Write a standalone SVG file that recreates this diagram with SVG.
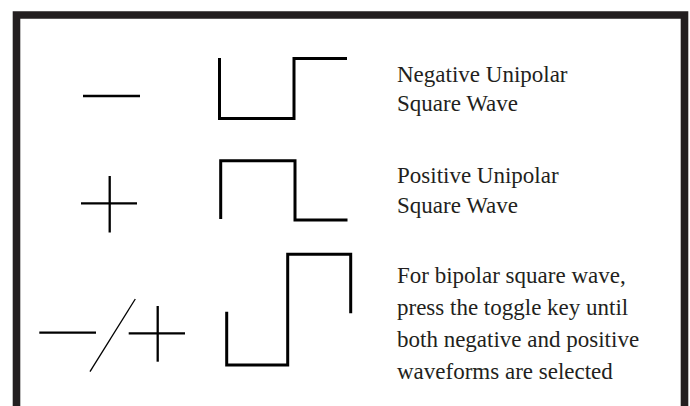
<svg xmlns="http://www.w3.org/2000/svg" width="690" height="406" viewBox="0 0 690 406">
<style>
.frame{fill:none;stroke:#231f20;stroke-width:7.6}
.sym{fill:none;stroke:#000;stroke-width:2.3}
.slash{fill:none;stroke:#000;stroke-width:1.3}
.wave{fill:none;stroke:#000;stroke-width:3;stroke-linejoin:miter}
text{font-family:"Liberation Serif","Times New Roman",serif;font-size:23px;fill:#231f20}
</style>
<rect width="690" height="406" fill="#fff"/>
<path class="frame" d="M16.5,406 V15 H684.5 V406"/>
<g id="negative">
<line class="sym" x1="83" y1="96" x2="140" y2="96"/>
<path class="wave" d="M219.5,58 V118.5 H294 V58.5 H347"/>
<text x="397" y="82">Negative Unipolar</text>
<text x="397" y="111">Square Wave</text>
</g>
<g id="positive">
<line class="sym" x1="81" y1="203.3" x2="137" y2="203.3"/>
<line class="sym" x1="109.7" y1="176" x2="109.7" y2="232.5"/>
<path class="wave" d="M220.7,219 V160.7 H295 V220 H347.5"/>
<text x="397" y="183">Positive Unipolar</text>
<text x="397" y="213">Square Wave</text>
</g>
<g id="bipolar">
<line class="sym" x1="39.3" y1="332.7" x2="96" y2="332.7"/>
<line class="slash" x1="135.3" y1="299" x2="90" y2="371.7"/>
<line class="sym" x1="128.7" y1="333.3" x2="185" y2="333.3"/>
<line class="sym" x1="157.7" y1="306" x2="157.7" y2="361.7"/>
<path class="wave" d="M226.7,311.7 V365 H287.7 V254.3 H350.7 V313.3"/>
<text x="397" y="283">For bipolar square wave,</text>
<text x="397" y="315">press the toggle key until</text>
<text x="397" y="347">both negative and positive</text>
<text x="397" y="379">waveforms are selected</text>
</g>
</svg>
